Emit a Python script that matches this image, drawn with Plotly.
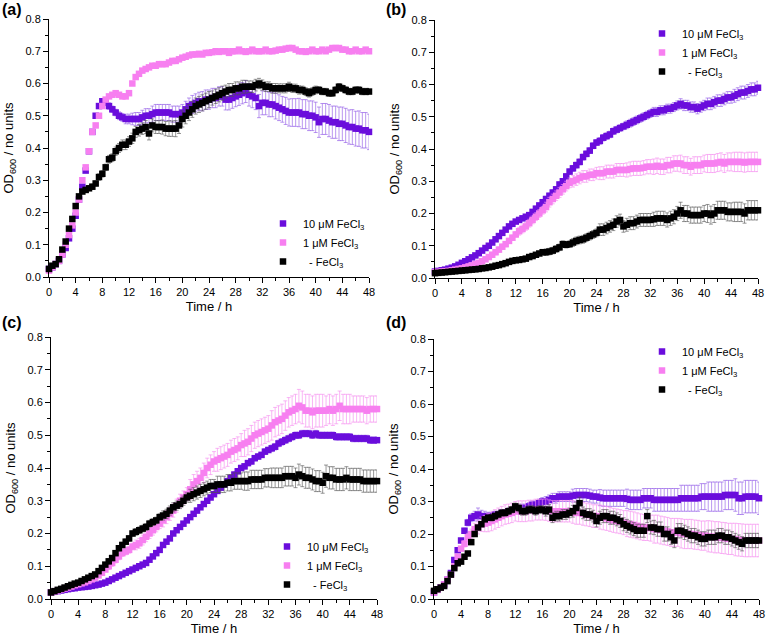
"""OD600 growth curves, four panels (a)-(d), three FeCl3 conditions each."""

import plotly.graph_objects as go

# sampling times (h)
T_H = [0, 0.5, 1, 1.5, 2, 2.5, 3, 3.5, 4,
       4.5, 5, 5.5, 6, 6.5, 7, 7.5, 8,
       8.5, 9, 9.5, 10, 10.5, 11, 11.5, 12,
       12.5, 13, 13.5, 14, 14.5, 15, 15.5, 16,
       16.5, 17, 17.5, 18, 18.5, 19, 19.5, 20,
       20.5, 21, 21.5, 22, 22.5, 23, 23.5, 24,
       24.5, 25, 25.5, 26, 26.5, 27, 27.5, 28,
       28.5, 29, 29.5, 30, 30.5, 31, 31.5, 32,
       32.5, 33, 33.5, 34, 34.5, 35, 35.5, 36,
       36.5, 37, 37.5, 38, 38.5, 39, 39.5, 40,
       40.5, 41, 41.5, 42, 42.5, 43, 43.5, 44,
       44.5, 45, 45.5, 46, 46.5, 47, 47.5, 48]

LABELS = ["10 μM FeCl<sub>3</sub>", "1 μM FeCl<sub>3</sub>", "\u00a0\u00a0- FeCl<sub>3</sub>"]

# ---- panel (a) ----
A_10 = [0.025, 0.03, 0.04, 0.05, 0.07, 0.09, 0.12, 0.15, 0.19,
        0.24, 0.28, 0.33, 0.39, 0.45, 0.50, 0.53, 0.545,
        0.54, 0.53, 0.52, 0.51, 0.50, 0.495, 0.49, 0.49,
        0.49, 0.49, 0.49, 0.495, 0.50, 0.50, 0.505, 0.51,
        0.51, 0.51, 0.51, 0.51, 0.505, 0.505, 0.505, 0.51,
        0.52, 0.53, 0.535, 0.54, 0.545, 0.545, 0.55, 0.55,
        0.555, 0.555, 0.56, 0.56, 0.55, 0.55, 0.555, 0.56,
        0.565, 0.57, 0.575, 0.565, 0.56, 0.555, 0.53, 0.54,
        0.54, 0.535, 0.535, 0.53, 0.525, 0.52, 0.515, 0.51,
        0.51, 0.51, 0.51, 0.505, 0.505, 0.50, 0.50, 0.495,
        0.48, 0.49, 0.49, 0.485, 0.48, 0.48, 0.475, 0.475,
        0.47, 0.465, 0.465, 0.46, 0.46, 0.455, 0.455, 0.45]
A_10_ERR = [0.003, 0.003, 0.003, 0.003, 0.003, 0.003, 0.003, 0.003, 0.003,
            0.005, 0.005, 0.005, 0.005, 0.005, 0.005, 0.005, 0.005,
            0.008, 0.01, 0.01, 0.01, 0.012, 0.012, 0.015, 0.015,
            0.018, 0.02, 0.02, 0.022, 0.022, 0.022, 0.025, 0.025,
            0.025, 0.025, 0.025, 0.025, 0.025, 0.025, 0.025, 0.025,
            0.025, 0.025, 0.028, 0.028, 0.028, 0.03, 0.03, 0.03,
            0.03, 0.03, 0.03, 0.03, 0.032, 0.032, 0.032, 0.032,
            0.033, 0.033, 0.034, 0.035, 0.035, 0.036, 0.036, 0.037,
            0.037, 0.038, 0.038, 0.04, 0.04, 0.04, 0.042, 0.042,
            0.043, 0.043, 0.044, 0.045, 0.045, 0.046, 0.046, 0.047,
            0.047, 0.048, 0.048, 0.05, 0.05, 0.05, 0.052, 0.052,
            0.053, 0.053, 0.054, 0.054, 0.055, 0.055, 0.055, 0.055]
A_1 = [0.02, 0.03, 0.04, 0.05, 0.07, 0.10, 0.13, 0.16, 0.20,
       0.24, 0.30, 0.34, 0.39, 0.45, 0.47, 0.50, 0.53,
       0.55, 0.56, 0.565, 0.57, 0.565, 0.56, 0.56, 0.57,
       0.60, 0.62, 0.63, 0.64, 0.645, 0.65, 0.655, 0.655,
       0.66, 0.66, 0.66, 0.665, 0.67, 0.67, 0.675, 0.68,
       0.683, 0.687, 0.69, 0.69, 0.692, 0.69, 0.695, 0.695,
       0.697, 0.70, 0.698, 0.70, 0.70, 0.695, 0.70, 0.70,
       0.705, 0.70, 0.698, 0.70, 0.705, 0.70, 0.70, 0.70,
       0.705, 0.70, 0.70, 0.702, 0.705, 0.705, 0.708, 0.71,
       0.71, 0.705, 0.70, 0.70, 0.698, 0.70, 0.705, 0.70,
       0.70, 0.705, 0.70, 0.705, 0.71, 0.71, 0.71, 0.705,
       0.705, 0.70, 0.70, 0.705, 0.70, 0.70, 0.705, 0.70]
A_1_ERR = [0.002, 0.002, 0.002, 0.002, 0.002, 0.002, 0.002, 0.002, 0.002,
           0.003, 0.003, 0.003, 0.003, 0.003, 0.003, 0.003, 0.003,
           0.004, 0.004, 0.004, 0.004, 0.004, 0.004, 0.004, 0.004,
           0.004, 0.004, 0.004, 0.004, 0.004, 0.004, 0.004, 0.004,
           0.004, 0.004, 0.004, 0.004, 0.004, 0.004, 0.004, 0.004,
           0.004, 0.004, 0.004, 0.004, 0.004, 0.004, 0.004, 0.004,
           0.004, 0.004, 0.004, 0.004, 0.004, 0.004, 0.004, 0.004,
           0.004, 0.004, 0.004, 0.004, 0.004, 0.004, 0.004, 0.004,
           0.004, 0.004, 0.004, 0.004, 0.004, 0.004, 0.004, 0.004,
           0.004, 0.004, 0.004, 0.004, 0.004, 0.004, 0.004, 0.004,
           0.004, 0.004, 0.004, 0.004, 0.004, 0.004, 0.004, 0.004,
           0.004, 0.004, 0.004, 0.004, 0.004, 0.004, 0.004, 0.004]
A_0 = [0.025, 0.035, 0.04, 0.055, 0.085, 0.11, 0.15, 0.18, 0.22,
       0.25, 0.265, 0.27, 0.275, 0.28, 0.29, 0.31, 0.32,
       0.34, 0.365, 0.37, 0.39, 0.40, 0.41, 0.41, 0.42,
       0.43, 0.45, 0.455, 0.46, 0.465, 0.445, 0.47, 0.465,
       0.465, 0.465, 0.46, 0.46, 0.46, 0.46, 0.47, 0.49,
       0.50, 0.51, 0.52, 0.53, 0.535, 0.54, 0.545, 0.55,
       0.555, 0.56, 0.565, 0.57, 0.575, 0.58, 0.58, 0.585,
       0.585, 0.59, 0.59, 0.59, 0.59, 0.595, 0.60, 0.595,
       0.59, 0.59, 0.585, 0.585, 0.585, 0.585, 0.585, 0.59,
       0.585, 0.585, 0.58, 0.58, 0.575, 0.57, 0.575, 0.58,
       0.58, 0.575, 0.575, 0.57, 0.57, 0.58, 0.59, 0.585,
       0.58, 0.575, 0.575, 0.58, 0.58, 0.575, 0.575, 0.575]
A_0_ERR = [0.004, 0.004, 0.004, 0.004, 0.004, 0.004, 0.004, 0.004, 0.004,
           0.005, 0.006, 0.006, 0.007, 0.008, 0.008, 0.01, 0.01,
           0.01, 0.012, 0.012, 0.013, 0.014, 0.015, 0.015, 0.015,
           0.016, 0.017, 0.018, 0.018, 0.02, 0.02, 0.02, 0.02,
           0.02, 0.022, 0.022, 0.024, 0.024, 0.025, 0.025, 0.025,
           0.025, 0.025, 0.025, 0.025, 0.025, 0.025, 0.025, 0.025,
           0.022, 0.022, 0.022, 0.022, 0.02, 0.02, 0.02, 0.02,
           0.02, 0.02, 0.02, 0.018, 0.018, 0.018, 0.016, 0.016,
           0.015, 0.015, 0.015, 0.015, 0.014, 0.014, 0.014, 0.014,
           0.013, 0.013, 0.013, 0.012, 0.012, 0.012, 0.012, 0.012,
           0.01, 0.01, 0.01, 0.01, 0.01, 0.01, 0.01, 0.01,
           0.01, 0.01, 0.01, 0.01, 0.01, 0.01, 0.01, 0.01]

# ---- panel (b) ----
B_10 = [0.02, 0.022, 0.024, 0.026, 0.029, 0.032, 0.036, 0.041, 0.047,
        0.052, 0.058, 0.064, 0.07, 0.077, 0.085, 0.093, 0.10,
        0.11, 0.12, 0.13, 0.14, 0.15, 0.16, 0.168, 0.175,
        0.18, 0.185, 0.19, 0.195, 0.205, 0.215, 0.225, 0.235,
        0.245, 0.255, 0.265, 0.275, 0.29, 0.30, 0.315, 0.33,
        0.34, 0.35, 0.36, 0.375, 0.385, 0.395, 0.41, 0.42,
        0.425, 0.435, 0.44, 0.445, 0.455, 0.46, 0.465, 0.47,
        0.475, 0.48, 0.485, 0.49, 0.495, 0.50, 0.505, 0.51,
        0.515, 0.515, 0.52, 0.52, 0.525, 0.525, 0.53, 0.535,
        0.54, 0.535, 0.535, 0.53, 0.53, 0.525, 0.53, 0.535,
        0.54, 0.54, 0.545, 0.55, 0.55, 0.555, 0.56, 0.56,
        0.565, 0.57, 0.575, 0.575, 0.58, 0.585, 0.585, 0.59]
B_10_ERR = [0.004, 0.004, 0.004, 0.004, 0.004, 0.004, 0.004, 0.004, 0.004,
            0.005, 0.005, 0.005, 0.005, 0.005, 0.005, 0.005, 0.005,
            0.006, 0.006, 0.006, 0.006, 0.006, 0.006, 0.006, 0.006,
            0.007, 0.007, 0.007, 0.007, 0.007, 0.007, 0.007, 0.007,
            0.008, 0.008, 0.008, 0.008, 0.008, 0.008, 0.008, 0.008,
            0.009, 0.009, 0.009, 0.009, 0.009, 0.009, 0.009, 0.009,
            0.01, 0.01, 0.01, 0.01, 0.01, 0.01, 0.01, 0.01,
            0.012, 0.012, 0.012, 0.012, 0.012, 0.012, 0.012, 0.012,
            0.014, 0.014, 0.014, 0.014, 0.014, 0.014, 0.014, 0.014,
            0.016, 0.016, 0.016, 0.016, 0.016, 0.016, 0.016, 0.016,
            0.018, 0.018, 0.018, 0.018, 0.018, 0.018, 0.018, 0.018,
            0.02, 0.02, 0.02, 0.02, 0.02, 0.02, 0.02, 0.02]
B_1 = [0.018, 0.019, 0.02, 0.021, 0.022, 0.024, 0.026, 0.028, 0.03,
       0.033, 0.036, 0.039, 0.043, 0.047, 0.052, 0.058, 0.065,
       0.072, 0.08, 0.088, 0.097, 0.105, 0.115, 0.125, 0.135,
       0.145, 0.152, 0.16, 0.17, 0.18, 0.19, 0.20, 0.21,
       0.22, 0.235, 0.245, 0.255, 0.265, 0.275, 0.285, 0.295,
       0.30, 0.305, 0.31, 0.315, 0.315, 0.32, 0.32, 0.325,
       0.325, 0.325, 0.33, 0.33, 0.33, 0.335, 0.335, 0.335,
       0.335, 0.338, 0.34, 0.34, 0.34, 0.342, 0.345, 0.345,
       0.345, 0.348, 0.345, 0.345, 0.35, 0.35, 0.355, 0.355,
       0.355, 0.35, 0.35, 0.345, 0.35, 0.35, 0.35, 0.355,
       0.355, 0.355, 0.355, 0.358, 0.36, 0.355, 0.36, 0.36,
       0.36, 0.36, 0.36, 0.358, 0.36, 0.36, 0.36, 0.36]
B_1_ERR = [0.003, 0.003, 0.003, 0.003, 0.003, 0.003, 0.003, 0.003, 0.003,
           0.005, 0.005, 0.005, 0.005, 0.005, 0.005, 0.005, 0.005,
           0.008, 0.008, 0.008, 0.008, 0.008, 0.008, 0.008, 0.008,
           0.012, 0.012, 0.012, 0.012, 0.012, 0.012, 0.012, 0.012,
           0.015, 0.015, 0.015, 0.015, 0.015, 0.015, 0.015, 0.015,
           0.018, 0.018, 0.018, 0.018, 0.018, 0.018, 0.018, 0.018,
           0.02, 0.02, 0.02, 0.02, 0.02, 0.02, 0.02, 0.02,
           0.022, 0.022, 0.022, 0.022, 0.022, 0.022, 0.022, 0.022,
           0.024, 0.024, 0.024, 0.024, 0.024, 0.024, 0.024, 0.024,
           0.026, 0.026, 0.026, 0.026, 0.026, 0.026, 0.026, 0.026,
           0.028, 0.028, 0.028, 0.028, 0.028, 0.028, 0.028, 0.028,
           0.03, 0.03, 0.03, 0.03, 0.03, 0.03, 0.03, 0.03]
B_0 = [0.015, 0.016, 0.017, 0.018, 0.019, 0.02, 0.021, 0.022, 0.023,
       0.024, 0.025, 0.026, 0.027, 0.028, 0.03, 0.031, 0.033,
       0.035, 0.038, 0.04, 0.043, 0.046, 0.05, 0.053, 0.055,
       0.056, 0.058, 0.06, 0.065, 0.068, 0.072, 0.076, 0.08,
       0.08, 0.082, 0.085, 0.09, 0.095, 0.105, 0.103, 0.105,
       0.11, 0.115, 0.118, 0.12, 0.125, 0.13, 0.135, 0.14,
       0.15, 0.15, 0.155, 0.16, 0.165, 0.175, 0.18, 0.16,
       0.165, 0.17, 0.17, 0.175, 0.18, 0.18, 0.18, 0.18,
       0.182, 0.185, 0.185, 0.185, 0.18, 0.185, 0.19, 0.20,
       0.21, 0.20, 0.20, 0.195, 0.195, 0.195, 0.195, 0.20,
       0.20, 0.195, 0.20, 0.21, 0.21, 0.21, 0.205, 0.205,
       0.205, 0.205, 0.205, 0.20, 0.21, 0.21, 0.21, 0.21]
B_0_ERR = [0.002, 0.002, 0.002, 0.002, 0.002, 0.002, 0.002, 0.002, 0.002,
           0.003, 0.003, 0.003, 0.003, 0.003, 0.003, 0.003, 0.003,
           0.004, 0.004, 0.004, 0.004, 0.004, 0.004, 0.004, 0.004,
           0.006, 0.006, 0.006, 0.006, 0.006, 0.006, 0.006, 0.006,
           0.01, 0.01, 0.01, 0.01, 0.01, 0.01, 0.01, 0.01,
           0.012, 0.012, 0.012, 0.012, 0.012, 0.012, 0.012, 0.012,
           0.018, 0.018, 0.018, 0.018, 0.018, 0.018, 0.018, 0.018,
           0.02, 0.02, 0.02, 0.02, 0.02, 0.02, 0.02, 0.02,
           0.022, 0.022, 0.022, 0.022, 0.022, 0.022, 0.022, 0.022,
           0.025, 0.025, 0.025, 0.025, 0.025, 0.025, 0.025, 0.025,
           0.028, 0.028, 0.028, 0.028, 0.028, 0.028, 0.028, 0.028,
           0.03, 0.03, 0.03, 0.03, 0.03, 0.03, 0.03, 0.03]

# ---- panel (c) ----
C_10 = [0.02, 0.022, 0.024, 0.026, 0.028, 0.03, 0.032, 0.033, 0.035,
        0.036, 0.037, 0.038, 0.04, 0.042, 0.044, 0.047, 0.05,
        0.055, 0.06, 0.065, 0.07, 0.075, 0.08, 0.085, 0.09,
        0.095, 0.10, 0.105, 0.11, 0.12, 0.13, 0.14, 0.15,
        0.165, 0.175, 0.185, 0.20, 0.21, 0.22, 0.23, 0.24,
        0.25, 0.26, 0.27, 0.28, 0.29, 0.30, 0.31, 0.32,
        0.33, 0.34, 0.35, 0.36, 0.37, 0.38, 0.39, 0.40,
        0.405, 0.415, 0.42, 0.43, 0.435, 0.44, 0.45, 0.455,
        0.46, 0.465, 0.475, 0.48, 0.485, 0.49, 0.495, 0.50,
        0.50, 0.505, 0.505, 0.505, 0.50, 0.505, 0.50, 0.50,
        0.50, 0.50, 0.50, 0.495, 0.495, 0.495, 0.495, 0.495,
        0.49, 0.49, 0.49, 0.49, 0.49, 0.485, 0.485, 0.485]
C_10_ERR = [0.004, 0.004, 0.004, 0.004, 0.004, 0.004, 0.004, 0.004, 0.004,
            0.004, 0.004, 0.004, 0.004, 0.004, 0.004, 0.004, 0.004,
            0.005, 0.005, 0.005, 0.005, 0.005, 0.005, 0.005, 0.005,
            0.006, 0.006, 0.006, 0.006, 0.006, 0.006, 0.006, 0.006,
            0.006, 0.006, 0.006, 0.006, 0.006, 0.006, 0.006, 0.006,
            0.007, 0.007, 0.007, 0.007, 0.007, 0.007, 0.007, 0.007,
            0.008, 0.008, 0.008, 0.008, 0.008, 0.008, 0.008, 0.008,
            0.008, 0.008, 0.008, 0.008, 0.008, 0.008, 0.008, 0.008,
            0.01, 0.01, 0.01, 0.01, 0.01, 0.01, 0.01, 0.01,
            0.01, 0.01, 0.01, 0.01, 0.01, 0.01, 0.01, 0.01,
            0.01, 0.01, 0.01, 0.01, 0.01, 0.01, 0.01, 0.01,
            0.01, 0.01, 0.01, 0.01, 0.01, 0.01, 0.01, 0.01]
C_1 = [0.02, 0.023, 0.026, 0.029, 0.032, 0.035, 0.038, 0.042, 0.045,
       0.048, 0.051, 0.055, 0.06, 0.065, 0.072, 0.08, 0.09,
       0.10, 0.11, 0.12, 0.13, 0.14, 0.145, 0.15, 0.16,
       0.165, 0.17, 0.18, 0.19, 0.20, 0.21, 0.22, 0.23,
       0.24, 0.25, 0.26, 0.27, 0.285, 0.30, 0.31, 0.32,
       0.335, 0.35, 0.36, 0.37, 0.385, 0.40, 0.41, 0.42,
       0.425, 0.43, 0.435, 0.44, 0.45, 0.455, 0.46, 0.47,
       0.475, 0.48, 0.49, 0.50, 0.505, 0.51, 0.515, 0.52,
       0.53, 0.54, 0.545, 0.55, 0.56, 0.57, 0.575, 0.58,
       0.59, 0.585, 0.575, 0.575, 0.57, 0.575, 0.575, 0.575,
       0.575, 0.58, 0.575, 0.58, 0.59, 0.58, 0.58, 0.58,
       0.58, 0.58, 0.58, 0.58, 0.575, 0.58, 0.58, 0.58]
C_1_ERR = [0.004, 0.004, 0.004, 0.004, 0.004, 0.004, 0.004, 0.004, 0.004,
           0.006, 0.006, 0.006, 0.006, 0.006, 0.006, 0.006, 0.006,
           0.01, 0.01, 0.01, 0.01, 0.01, 0.01, 0.01, 0.01,
           0.015, 0.015, 0.015, 0.015, 0.015, 0.015, 0.015, 0.015,
           0.02, 0.02, 0.02, 0.02, 0.02, 0.02, 0.02, 0.02,
           0.03, 0.03, 0.03, 0.03, 0.03, 0.03, 0.03, 0.03,
           0.035, 0.035, 0.035, 0.035, 0.035, 0.035, 0.035, 0.035,
           0.04, 0.04, 0.04, 0.04, 0.04, 0.04, 0.04, 0.04,
           0.045, 0.045, 0.045, 0.045, 0.045, 0.045, 0.045, 0.045,
           0.05, 0.05, 0.05, 0.05, 0.05, 0.05, 0.05, 0.05,
           0.045, 0.045, 0.045, 0.045, 0.045, 0.045, 0.045, 0.045,
           0.04, 0.04, 0.04, 0.04, 0.04, 0.04, 0.04, 0.04]
C_0 = [0.02, 0.024, 0.028, 0.031, 0.035, 0.039, 0.043, 0.047, 0.05,
       0.055, 0.06, 0.065, 0.07, 0.075, 0.085, 0.095, 0.105,
       0.115, 0.125, 0.14, 0.155, 0.165, 0.175, 0.185, 0.20,
       0.205, 0.21, 0.215, 0.22, 0.23, 0.235, 0.24, 0.25,
       0.255, 0.26, 0.27, 0.28, 0.285, 0.29, 0.30, 0.31,
       0.315, 0.32, 0.325, 0.33, 0.335, 0.34, 0.345, 0.345,
       0.35, 0.35, 0.35, 0.355, 0.355, 0.36, 0.36, 0.36,
       0.36, 0.36, 0.365, 0.365, 0.365, 0.365, 0.37, 0.37,
       0.37, 0.37, 0.37, 0.37, 0.375, 0.375, 0.375, 0.37,
       0.38, 0.375, 0.37, 0.37, 0.365, 0.36, 0.36, 0.355,
       0.375, 0.37, 0.37, 0.365, 0.365, 0.365, 0.37, 0.365,
       0.365, 0.365, 0.365, 0.36, 0.36, 0.36, 0.36, 0.36]
C_0_ERR = [0.004, 0.004, 0.004, 0.004, 0.004, 0.004, 0.004, 0.004, 0.004,
           0.006, 0.006, 0.006, 0.006, 0.006, 0.006, 0.006, 0.006,
           0.008, 0.008, 0.008, 0.008, 0.008, 0.008, 0.008, 0.008,
           0.01, 0.01, 0.01, 0.01, 0.01, 0.01, 0.01, 0.01,
           0.014, 0.014, 0.014, 0.014, 0.014, 0.014, 0.014, 0.014,
           0.02, 0.02, 0.02, 0.02, 0.02, 0.02, 0.02, 0.02,
           0.025, 0.025, 0.025, 0.025, 0.025, 0.025, 0.025, 0.025,
           0.028, 0.028, 0.028, 0.028, 0.028, 0.028, 0.028, 0.028,
           0.03, 0.03, 0.03, 0.03, 0.03, 0.03, 0.03, 0.03,
           0.032, 0.032, 0.032, 0.032, 0.032, 0.032, 0.032, 0.032,
           0.034, 0.034, 0.034, 0.034, 0.034, 0.034, 0.034, 0.034,
           0.034, 0.034, 0.034, 0.034, 0.034, 0.034, 0.034, 0.034]

# ---- panel (d) ----
D_10 = [0.02, 0.03, 0.035, 0.045, 0.06, 0.08, 0.12, 0.15, 0.18,
        0.21, 0.235, 0.25, 0.255, 0.26, 0.255, 0.255, 0.255,
        0.255, 0.26, 0.26, 0.265, 0.265, 0.27, 0.27, 0.275,
        0.275, 0.28, 0.28, 0.285, 0.29, 0.29, 0.295, 0.30,
        0.30, 0.305, 0.31, 0.31, 0.315, 0.315, 0.315, 0.315,
        0.318, 0.32, 0.32, 0.32, 0.32, 0.318, 0.315, 0.315,
        0.312, 0.31, 0.31, 0.31, 0.31, 0.31, 0.31, 0.31,
        0.308, 0.305, 0.305, 0.305, 0.305, 0.31, 0.31, 0.31,
        0.305, 0.305, 0.305, 0.305, 0.305, 0.305, 0.305, 0.305,
        0.31, 0.31, 0.31, 0.31, 0.31, 0.31, 0.315, 0.315,
        0.315, 0.315, 0.315, 0.315, 0.315, 0.32, 0.32, 0.32,
        0.32, 0.31, 0.31, 0.315, 0.315, 0.315, 0.315, 0.31]
D_10_ERR = [0.003, 0.003, 0.003, 0.003, 0.003, 0.003, 0.003, 0.003, 0.003,
            0.008, 0.01, 0.012, 0.015, 0.02, 0.018, 0.015, 0.012,
            0.01, 0.01, 0.01, 0.01, 0.01, 0.01, 0.01, 0.01,
            0.012, 0.012, 0.012, 0.012, 0.012, 0.012, 0.012, 0.012,
            0.015, 0.015, 0.015, 0.015, 0.015, 0.015, 0.015, 0.015,
            0.02, 0.02, 0.02, 0.02, 0.02, 0.02, 0.02, 0.02,
            0.025, 0.025, 0.025, 0.025, 0.025, 0.025, 0.025, 0.025,
            0.03, 0.03, 0.03, 0.03, 0.03, 0.03, 0.03, 0.03,
            0.035, 0.035, 0.035, 0.035, 0.035, 0.035, 0.035, 0.035,
            0.04, 0.04, 0.04, 0.04, 0.04, 0.04, 0.04, 0.04,
            0.045, 0.045, 0.045, 0.045, 0.045, 0.045, 0.045, 0.045,
            0.05, 0.05, 0.05, 0.05, 0.05, 0.05, 0.05, 0.05]
D_1 = [0.02, 0.028, 0.035, 0.045, 0.06, 0.075, 0.10, 0.13, 0.155,
       0.17, 0.19, 0.20, 0.215, 0.22, 0.23, 0.232, 0.235,
       0.24, 0.245, 0.25, 0.255, 0.26, 0.262, 0.265, 0.27,
       0.27, 0.27, 0.27, 0.272, 0.272, 0.275, 0.275, 0.275,
       0.275, 0.272, 0.27, 0.27, 0.27, 0.27, 0.27, 0.27,
       0.268, 0.265, 0.265, 0.262, 0.26, 0.258, 0.255, 0.255,
       0.252, 0.25, 0.248, 0.245, 0.242, 0.24, 0.238, 0.235,
       0.232, 0.23, 0.228, 0.225, 0.222, 0.22, 0.22, 0.218,
       0.215, 0.215, 0.212, 0.21, 0.208, 0.205, 0.205, 0.205,
       0.202, 0.20, 0.20, 0.20, 0.198, 0.197, 0.195, 0.195,
       0.193, 0.192, 0.19, 0.19, 0.188, 0.187, 0.185, 0.185,
       0.183, 0.182, 0.181, 0.18, 0.18, 0.18, 0.18, 0.18]
D_1_ERR = [0.004, 0.004, 0.004, 0.004, 0.004, 0.004, 0.004, 0.004, 0.004,
           0.01, 0.012, 0.015, 0.018, 0.02, 0.022, 0.025, 0.028,
           0.03, 0.03, 0.03, 0.03, 0.03, 0.03, 0.03, 0.03,
           0.032, 0.032, 0.032, 0.032, 0.032, 0.032, 0.032, 0.032,
           0.033, 0.033, 0.033, 0.033, 0.033, 0.033, 0.033, 0.033,
           0.035, 0.035, 0.035, 0.035, 0.035, 0.035, 0.035, 0.035,
           0.037, 0.037, 0.037, 0.037, 0.037, 0.037, 0.037, 0.037,
           0.04, 0.04, 0.04, 0.04, 0.04, 0.04, 0.04, 0.04,
           0.043, 0.043, 0.043, 0.043, 0.043, 0.043, 0.043, 0.043,
           0.045, 0.045, 0.045, 0.045, 0.045, 0.045, 0.045, 0.045,
           0.048, 0.048, 0.048, 0.048, 0.048, 0.048, 0.048, 0.048,
           0.05, 0.05, 0.05, 0.05, 0.05, 0.05, 0.05, 0.05]
D_0 = [0.025, 0.03, 0.035, 0.04, 0.055, 0.075, 0.095, 0.11, 0.115,
       0.13, 0.14, 0.175, 0.20, 0.22, 0.23, 0.245, 0.25,
       0.25, 0.255, 0.26, 0.265, 0.265, 0.27, 0.275, 0.285,
       0.28, 0.27, 0.27, 0.275, 0.275, 0.27, 0.275, 0.275,
       0.27, 0.275, 0.25, 0.255, 0.255, 0.26, 0.26, 0.265,
       0.27, 0.28, 0.295, 0.265, 0.26, 0.26, 0.255, 0.24,
       0.25, 0.255, 0.255, 0.25, 0.25, 0.245, 0.24, 0.23,
       0.225, 0.22, 0.215, 0.21, 0.21, 0.21, 0.255, 0.22,
       0.22, 0.215, 0.215, 0.20, 0.20, 0.19, 0.18, 0.21,
       0.21, 0.205, 0.20, 0.195, 0.195, 0.19, 0.185, 0.185,
       0.19, 0.19, 0.19, 0.195, 0.195, 0.19, 0.19, 0.185,
       0.18, 0.175, 0.17, 0.18, 0.18, 0.18, 0.18, 0.18]
D_0_ERR = [0.004, 0.004, 0.004, 0.004, 0.004, 0.004, 0.004, 0.004, 0.004,
           0.006, 0.006, 0.006, 0.006, 0.006, 0.006, 0.006, 0.006,
           0.01, 0.01, 0.01, 0.01, 0.01, 0.01, 0.01, 0.01,
           0.012, 0.012, 0.012, 0.012, 0.012, 0.012, 0.012, 0.012,
           0.015, 0.015, 0.015, 0.015, 0.015, 0.015, 0.015, 0.015,
           0.018, 0.018, 0.018, 0.018, 0.018, 0.018, 0.018, 0.018,
           0.02, 0.02, 0.02, 0.02, 0.02, 0.02, 0.02, 0.02,
           0.02, 0.02, 0.02, 0.02, 0.02, 0.02, 0.02, 0.02,
           0.022, 0.022, 0.022, 0.022, 0.022, 0.022, 0.022, 0.022,
           0.022, 0.022, 0.022, 0.022, 0.022, 0.022, 0.022, 0.022,
           0.022, 0.022, 0.022, 0.022, 0.022, 0.022, 0.022, 0.022,
           0.022, 0.022, 0.022, 0.022, 0.022, 0.022, 0.022, 0.022]

# marker colour, error-bar colour
COLORS = [("#6a0ddc", "rgba(140,80,230,0.75)"),
          ("#f77ff0", "rgba(245,140,240,0.8)"),
          ("#000000", "rgba(80,80,80,0.75)")]

W, H = 767, 638
FONT = "Arial, Liberation Sans, sans-serif"

# panel: (tag, x px range, y px range (top, bottom), legend top-left px, data)
PANELS = [
    ("(a)", (49, 369), (19, 277), (263, 209), [(A_10, A_10_ERR), (A_1, A_1_ERR), (A_0, A_0_ERR)]),
    ("(b)", (435, 758), (20, 278), (642, 19), [(B_10, B_10_ERR), (B_1, B_1_ERR), (B_0, B_0_ERR)]),
    ("(c)", (51, 377), (337, 599), (267, 532), [(C_10, C_10_ERR), (C_1, C_1_ERR), (C_0, C_0_ERR)]),
    ("(d)", (434, 759), (339, 599), (642, 337), [(D_10, D_10_ERR), (D_1, D_1_ERR), (D_0, D_0_ERR)]),
]
TAG_POS = [(0, -1), (384, -1), (0, 312), (384, 312)]

fig = go.Figure()
layout = {}
annotations = []

for i, (tag, xpx, ypx, legpx, data) in enumerate(PANELS):
    n = "" if i == 0 else str(i + 1)
    for label, (y, err), (col, ecol) in zip(LABELS, data, COLORS):
        fig.add_trace(go.Scatter(
            x=T_H, y=y, name=label, mode="markers",
            marker=dict(symbol="square", size=6.5, color=col, line=dict(width=0)),
            error_y=dict(type="data", array=err, color=ecol, thickness=0.8, width=2),
            xaxis="x" + n, yaxis="y" + n, legend="legend" + n,
            cliponaxis=False,
        ))

    axis_common = dict(
        showline=True, linecolor="black", linewidth=1, mirror=False,
        showgrid=False, zeroline=False, ticks="outside", ticklen=5,
        tickcolor="black", tickfont=dict(size=11, color="black", family=FONT),
        automargin=False, ticklabeloverflow="allow",
    )
    layout["xaxis" + n] = dict(
        axis_common, domain=[xpx[0] / W, xpx[1] / W], anchor="y" + n,
        range=[0, 48], dtick=4, tick0=0,
        minor=dict(dtick=2, ticklen=3, ticks="outside", tickcolor="black"),
        title=dict(text="Time / h", font=dict(size=13, color="black", family=FONT), standoff=4),
    )
    layout["yaxis" + n] = dict(
        axis_common, domain=[1 - ypx[1] / H, 1 - ypx[0] / H], anchor="x" + n,
        range=[0, 0.8], dtick=0.1, tick0=0, tickformat=".1f",
        minor=dict(dtick=0.05, ticklen=3, ticks="outside", tickcolor="black"),
        title=dict(text="OD<sub>600</sub> / no units",
                   font=dict(size=13, color="black", family=FONT), standoff=8),
    )
    layout["legend" + n] = dict(
        x=legpx[0] / W, y=1 - legpx[1] / H, xanchor="left", yanchor="top",
        bgcolor="rgba(0,0,0,0)", borderwidth=0, traceorder="normal",
        font=dict(size=11, color="black", family=FONT), itemsizing="trace",
    )
    tx, ty = TAG_POS[i]
    annotations.append(dict(
        text=f"<b>{tag}</b>", x=tx / W, y=1 - ty / H, xref="paper", yref="paper",
        xanchor="left", yanchor="top", showarrow=False,
        font=dict(size=16, color="black", family=FONT),
    ))

fig.update_layout(
    width=W, height=H,
    margin=dict(l=0, r=0, t=0, b=0, autoexpand=False),
    paper_bgcolor="white", plot_bgcolor="white",
    font=dict(family=FONT, color="black"),
    annotations=annotations,
    **layout,
)

# drop the page's default 8px body margin so the figure fills the window
fig.write_html("out.html", config={"displayModeBar": False},
               post_script="document.body.style.margin='0';document.body.style.overflow='hidden';")
